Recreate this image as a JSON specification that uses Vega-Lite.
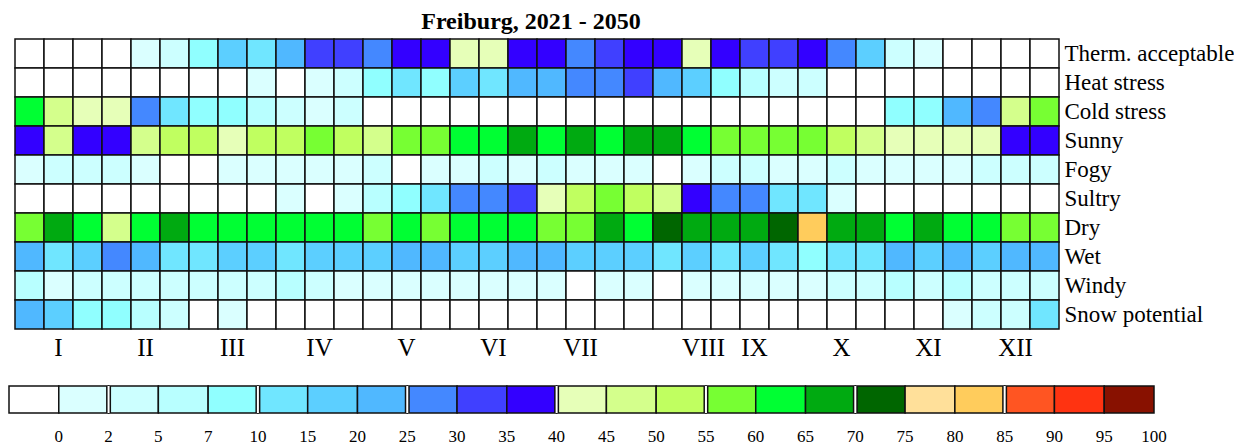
{
  "$schema": "https://vega.github.io/schema/vega-lite/v6.json",
  "padding": {"left": 8, "top": 10, "right": 0, "bottom": 0},
  "background": "white",
  "spacing": 23,
  "config": {"font": "Liberation Serif", "view": {"stroke": null}},
  "vconcat": [
    {
      "width": 1044,
      "height": 290,
      "title": {"text": "Freiburg, 2021 - 2050", "fontSize": 24, "fontWeight": "bold", "font": "Liberation Serif", "anchor": "middle", "offset": 4, "dx": -6, "color": "black"},
      "data": {"values": [
{"p":"Therm. acceptable","m":"I","d":1,"v":0},{"p":"Therm. acceptable","m":"I","d":2,"v":0},{"p":"Therm. acceptable","m":"I","d":3,"v":0},
{"p":"Therm. acceptable","m":"II","d":1,"v":0},{"p":"Therm. acceptable","m":"II","d":2,"v":1},{"p":"Therm. acceptable","m":"II","d":3,"v":4},
{"p":"Therm. acceptable","m":"III","d":1,"v":9},{"p":"Therm. acceptable","m":"III","d":2,"v":18},{"p":"Therm. acceptable","m":"III","d":3,"v":13},
{"p":"Therm. acceptable","m":"IV","d":1,"v":23},{"p":"Therm. acceptable","m":"IV","d":2,"v":33},{"p":"Therm. acceptable","m":"IV","d":3,"v":33},
{"p":"Therm. acceptable","m":"V","d":1,"v":28},{"p":"Therm. acceptable","m":"V","d":2,"v":38},{"p":"Therm. acceptable","m":"V","d":3,"v":38},
{"p":"Therm. acceptable","m":"VI","d":1,"v":43},{"p":"Therm. acceptable","m":"VI","d":2,"v":43},{"p":"Therm. acceptable","m":"VI","d":3,"v":38},
{"p":"Therm. acceptable","m":"VII","d":1,"v":38},{"p":"Therm. acceptable","m":"VII","d":2,"v":28},{"p":"Therm. acceptable","m":"VII","d":3,"v":33},
{"p":"Therm. acceptable","m":"VIII","d":1,"v":38},{"p":"Therm. acceptable","m":"VIII","d":2,"v":38},{"p":"Therm. acceptable","m":"VIII","d":3,"v":43},
{"p":"Therm. acceptable","m":"IX","d":1,"v":38},{"p":"Therm. acceptable","m":"IX","d":2,"v":33},{"p":"Therm. acceptable","m":"IX","d":3,"v":33},
{"p":"Therm. acceptable","m":"X","d":1,"v":38},{"p":"Therm. acceptable","m":"X","d":2,"v":28},{"p":"Therm. acceptable","m":"X","d":3,"v":18},
{"p":"Therm. acceptable","m":"XI","d":1,"v":4},{"p":"Therm. acceptable","m":"XI","d":2,"v":1},{"p":"Therm. acceptable","m":"XI","d":3,"v":0},
{"p":"Therm. acceptable","m":"XII","d":1,"v":0},{"p":"Therm. acceptable","m":"XII","d":2,"v":0},{"p":"Therm. acceptable","m":"XII","d":3,"v":0},

{"p":"Heat stress","m":"I","d":1,"v":0},{"p":"Heat stress","m":"I","d":2,"v":0},{"p":"Heat stress","m":"I","d":3,"v":0},
{"p":"Heat stress","m":"II","d":1,"v":0},{"p":"Heat stress","m":"II","d":2,"v":0},{"p":"Heat stress","m":"II","d":3,"v":0},
{"p":"Heat stress","m":"III","d":1,"v":0},{"p":"Heat stress","m":"III","d":2,"v":0},{"p":"Heat stress","m":"III","d":3,"v":1},
{"p":"Heat stress","m":"IV","d":1,"v":0},{"p":"Heat stress","m":"IV","d":2,"v":1},{"p":"Heat stress","m":"IV","d":3,"v":4},
{"p":"Heat stress","m":"V","d":1,"v":9},{"p":"Heat stress","m":"V","d":2,"v":13},{"p":"Heat stress","m":"V","d":3,"v":9},
{"p":"Heat stress","m":"VI","d":1,"v":18},{"p":"Heat stress","m":"VI","d":2,"v":13},{"p":"Heat stress","m":"VI","d":3,"v":23},
{"p":"Heat stress","m":"VII","d":1,"v":23},{"p":"Heat stress","m":"VII","d":2,"v":28},{"p":"Heat stress","m":"VII","d":3,"v":28},
{"p":"Heat stress","m":"VIII","d":1,"v":33},{"p":"Heat stress","m":"VIII","d":2,"v":23},{"p":"Heat stress","m":"VIII","d":3,"v":18},
{"p":"Heat stress","m":"IX","d":1,"v":9},{"p":"Heat stress","m":"IX","d":2,"v":6},{"p":"Heat stress","m":"IX","d":3,"v":4},
{"p":"Heat stress","m":"X","d":1,"v":4},{"p":"Heat stress","m":"X","d":2,"v":0},{"p":"Heat stress","m":"X","d":3,"v":0},
{"p":"Heat stress","m":"XI","d":1,"v":0},{"p":"Heat stress","m":"XI","d":2,"v":0},{"p":"Heat stress","m":"XI","d":3,"v":0},
{"p":"Heat stress","m":"XII","d":1,"v":0},{"p":"Heat stress","m":"XII","d":2,"v":0},{"p":"Heat stress","m":"XII","d":3,"v":0},

{"p":"Cold stress","m":"I","d":1,"v":63},{"p":"Cold stress","m":"I","d":2,"v":48},{"p":"Cold stress","m":"I","d":3,"v":43},
{"p":"Cold stress","m":"II","d":1,"v":43},{"p":"Cold stress","m":"II","d":2,"v":28},{"p":"Cold stress","m":"II","d":3,"v":13},
{"p":"Cold stress","m":"III","d":1,"v":9},{"p":"Cold stress","m":"III","d":2,"v":9},{"p":"Cold stress","m":"III","d":3,"v":6},
{"p":"Cold stress","m":"IV","d":1,"v":4},{"p":"Cold stress","m":"IV","d":2,"v":1},{"p":"Cold stress","m":"IV","d":3,"v":4},
{"p":"Cold stress","m":"V","d":1,"v":0},{"p":"Cold stress","m":"V","d":2,"v":0},{"p":"Cold stress","m":"V","d":3,"v":0},
{"p":"Cold stress","m":"VI","d":1,"v":0},{"p":"Cold stress","m":"VI","d":2,"v":0},{"p":"Cold stress","m":"VI","d":3,"v":0},
{"p":"Cold stress","m":"VII","d":1,"v":0},{"p":"Cold stress","m":"VII","d":2,"v":0},{"p":"Cold stress","m":"VII","d":3,"v":0},
{"p":"Cold stress","m":"VIII","d":1,"v":0},{"p":"Cold stress","m":"VIII","d":2,"v":0},{"p":"Cold stress","m":"VIII","d":3,"v":0},
{"p":"Cold stress","m":"IX","d":1,"v":0},{"p":"Cold stress","m":"IX","d":2,"v":0},{"p":"Cold stress","m":"IX","d":3,"v":0},
{"p":"Cold stress","m":"X","d":1,"v":0},{"p":"Cold stress","m":"X","d":2,"v":0},{"p":"Cold stress","m":"X","d":3,"v":0},
{"p":"Cold stress","m":"XI","d":1,"v":9},{"p":"Cold stress","m":"XI","d":2,"v":9},{"p":"Cold stress","m":"XI","d":3,"v":23},
{"p":"Cold stress","m":"XII","d":1,"v":28},{"p":"Cold stress","m":"XII","d":2,"v":48},{"p":"Cold stress","m":"XII","d":3,"v":58},

{"p":"Sunny","m":"I","d":1,"v":38},{"p":"Sunny","m":"I","d":2,"v":48},{"p":"Sunny","m":"I","d":3,"v":38},
{"p":"Sunny","m":"II","d":1,"v":38},{"p":"Sunny","m":"II","d":2,"v":48},{"p":"Sunny","m":"II","d":3,"v":53},
{"p":"Sunny","m":"III","d":1,"v":53},{"p":"Sunny","m":"III","d":2,"v":43},{"p":"Sunny","m":"III","d":3,"v":53},
{"p":"Sunny","m":"IV","d":1,"v":53},{"p":"Sunny","m":"IV","d":2,"v":58},{"p":"Sunny","m":"IV","d":3,"v":53},
{"p":"Sunny","m":"V","d":1,"v":48},{"p":"Sunny","m":"V","d":2,"v":58},{"p":"Sunny","m":"V","d":3,"v":58},
{"p":"Sunny","m":"VI","d":1,"v":63},{"p":"Sunny","m":"VI","d":2,"v":63},{"p":"Sunny","m":"VI","d":3,"v":68},
{"p":"Sunny","m":"VII","d":1,"v":63},{"p":"Sunny","m":"VII","d":2,"v":68},{"p":"Sunny","m":"VII","d":3,"v":63},
{"p":"Sunny","m":"VIII","d":1,"v":68},{"p":"Sunny","m":"VIII","d":2,"v":68},{"p":"Sunny","m":"VIII","d":3,"v":63},
{"p":"Sunny","m":"IX","d":1,"v":58},{"p":"Sunny","m":"IX","d":2,"v":58},{"p":"Sunny","m":"IX","d":3,"v":58},
{"p":"Sunny","m":"X","d":1,"v":58},{"p":"Sunny","m":"X","d":2,"v":53},{"p":"Sunny","m":"X","d":3,"v":48},
{"p":"Sunny","m":"XI","d":1,"v":43},{"p":"Sunny","m":"XI","d":2,"v":43},{"p":"Sunny","m":"XI","d":3,"v":43},
{"p":"Sunny","m":"XII","d":1,"v":43},{"p":"Sunny","m":"XII","d":2,"v":38},{"p":"Sunny","m":"XII","d":3,"v":38},

{"p":"Fogy","m":"I","d":1,"v":1},{"p":"Fogy","m":"I","d":2,"v":4},{"p":"Fogy","m":"I","d":3,"v":4},
{"p":"Fogy","m":"II","d":1,"v":4},{"p":"Fogy","m":"II","d":2,"v":1},{"p":"Fogy","m":"II","d":3,"v":0},
{"p":"Fogy","m":"III","d":1,"v":0},{"p":"Fogy","m":"III","d":2,"v":1},{"p":"Fogy","m":"III","d":3,"v":1},
{"p":"Fogy","m":"IV","d":1,"v":1},{"p":"Fogy","m":"IV","d":2,"v":1},{"p":"Fogy","m":"IV","d":3,"v":1},
{"p":"Fogy","m":"V","d":1,"v":4},{"p":"Fogy","m":"V","d":2,"v":0},{"p":"Fogy","m":"V","d":3,"v":1},
{"p":"Fogy","m":"VI","d":1,"v":1},{"p":"Fogy","m":"VI","d":2,"v":4},{"p":"Fogy","m":"VI","d":3,"v":1},
{"p":"Fogy","m":"VII","d":1,"v":4},{"p":"Fogy","m":"VII","d":2,"v":1},{"p":"Fogy","m":"VII","d":3,"v":1},
{"p":"Fogy","m":"VIII","d":1,"v":1},{"p":"Fogy","m":"VIII","d":2,"v":0},{"p":"Fogy","m":"VIII","d":3,"v":1},
{"p":"Fogy","m":"IX","d":1,"v":4},{"p":"Fogy","m":"IX","d":2,"v":4},{"p":"Fogy","m":"IX","d":3,"v":1},
{"p":"Fogy","m":"X","d":1,"v":1},{"p":"Fogy","m":"X","d":2,"v":4},{"p":"Fogy","m":"X","d":3,"v":1},
{"p":"Fogy","m":"XI","d":1,"v":1},{"p":"Fogy","m":"XI","d":2,"v":1},{"p":"Fogy","m":"XI","d":3,"v":1},
{"p":"Fogy","m":"XII","d":1,"v":4},{"p":"Fogy","m":"XII","d":2,"v":4},{"p":"Fogy","m":"XII","d":3,"v":4},

{"p":"Sultry","m":"I","d":1,"v":0},{"p":"Sultry","m":"I","d":2,"v":0},{"p":"Sultry","m":"I","d":3,"v":0},
{"p":"Sultry","m":"II","d":1,"v":0},{"p":"Sultry","m":"II","d":2,"v":0},{"p":"Sultry","m":"II","d":3,"v":0},
{"p":"Sultry","m":"III","d":1,"v":0},{"p":"Sultry","m":"III","d":2,"v":0},{"p":"Sultry","m":"III","d":3,"v":0},
{"p":"Sultry","m":"IV","d":1,"v":1},{"p":"Sultry","m":"IV","d":2,"v":0},{"p":"Sultry","m":"IV","d":3,"v":1},
{"p":"Sultry","m":"V","d":1,"v":6},{"p":"Sultry","m":"V","d":2,"v":9},{"p":"Sultry","m":"V","d":3,"v":13},
{"p":"Sultry","m":"VI","d":1,"v":28},{"p":"Sultry","m":"VI","d":2,"v":28},{"p":"Sultry","m":"VI","d":3,"v":33},
{"p":"Sultry","m":"VII","d":1,"v":43},{"p":"Sultry","m":"VII","d":2,"v":53},{"p":"Sultry","m":"VII","d":3,"v":58},
{"p":"Sultry","m":"VIII","d":1,"v":53},{"p":"Sultry","m":"VIII","d":2,"v":48},{"p":"Sultry","m":"VIII","d":3,"v":38},
{"p":"Sultry","m":"IX","d":1,"v":28},{"p":"Sultry","m":"IX","d":2,"v":28},{"p":"Sultry","m":"IX","d":3,"v":13},
{"p":"Sultry","m":"X","d":1,"v":13},{"p":"Sultry","m":"X","d":2,"v":1},{"p":"Sultry","m":"X","d":3,"v":0},
{"p":"Sultry","m":"XI","d":1,"v":0},{"p":"Sultry","m":"XI","d":2,"v":0},{"p":"Sultry","m":"XI","d":3,"v":0},
{"p":"Sultry","m":"XII","d":1,"v":0},{"p":"Sultry","m":"XII","d":2,"v":0},{"p":"Sultry","m":"XII","d":3,"v":0},

{"p":"Dry","m":"I","d":1,"v":58},{"p":"Dry","m":"I","d":2,"v":68},{"p":"Dry","m":"I","d":3,"v":63},
{"p":"Dry","m":"II","d":1,"v":48},{"p":"Dry","m":"II","d":2,"v":63},{"p":"Dry","m":"II","d":3,"v":68},
{"p":"Dry","m":"III","d":1,"v":63},{"p":"Dry","m":"III","d":2,"v":63},{"p":"Dry","m":"III","d":3,"v":63},
{"p":"Dry","m":"IV","d":1,"v":63},{"p":"Dry","m":"IV","d":2,"v":63},{"p":"Dry","m":"IV","d":3,"v":63},
{"p":"Dry","m":"V","d":1,"v":58},{"p":"Dry","m":"V","d":2,"v":63},{"p":"Dry","m":"V","d":3,"v":58},
{"p":"Dry","m":"VI","d":1,"v":63},{"p":"Dry","m":"VI","d":2,"v":63},{"p":"Dry","m":"VI","d":3,"v":63},
{"p":"Dry","m":"VII","d":1,"v":58},{"p":"Dry","m":"VII","d":2,"v":58},{"p":"Dry","m":"VII","d":3,"v":68},
{"p":"Dry","m":"VIII","d":1,"v":63},{"p":"Dry","m":"VIII","d":2,"v":73},{"p":"Dry","m":"VIII","d":3,"v":68},
{"p":"Dry","m":"IX","d":1,"v":68},{"p":"Dry","m":"IX","d":2,"v":68},{"p":"Dry","m":"IX","d":3,"v":73},
{"p":"Dry","m":"X","d":1,"v":83},{"p":"Dry","m":"X","d":2,"v":68},{"p":"Dry","m":"X","d":3,"v":68},
{"p":"Dry","m":"XI","d":1,"v":63},{"p":"Dry","m":"XI","d":2,"v":68},{"p":"Dry","m":"XI","d":3,"v":63},
{"p":"Dry","m":"XII","d":1,"v":63},{"p":"Dry","m":"XII","d":2,"v":58},{"p":"Dry","m":"XII","d":3,"v":58},

{"p":"Wet","m":"I","d":1,"v":23},{"p":"Wet","m":"I","d":2,"v":13},{"p":"Wet","m":"I","d":3,"v":18},
{"p":"Wet","m":"II","d":1,"v":28},{"p":"Wet","m":"II","d":2,"v":23},{"p":"Wet","m":"II","d":3,"v":13},
{"p":"Wet","m":"III","d":1,"v":13},{"p":"Wet","m":"III","d":2,"v":18},{"p":"Wet","m":"III","d":3,"v":18},
{"p":"Wet","m":"IV","d":1,"v":13},{"p":"Wet","m":"IV","d":2,"v":18},{"p":"Wet","m":"IV","d":3,"v":18},
{"p":"Wet","m":"V","d":1,"v":18},{"p":"Wet","m":"V","d":2,"v":23},{"p":"Wet","m":"V","d":3,"v":23},
{"p":"Wet","m":"VI","d":1,"v":18},{"p":"Wet","m":"VI","d":2,"v":18},{"p":"Wet","m":"VI","d":3,"v":23},
{"p":"Wet","m":"VII","d":1,"v":23},{"p":"Wet","m":"VII","d":2,"v":18},{"p":"Wet","m":"VII","d":3,"v":18},
{"p":"Wet","m":"VIII","d":1,"v":18},{"p":"Wet","m":"VIII","d":2,"v":13},{"p":"Wet","m":"VIII","d":3,"v":18},
{"p":"Wet","m":"IX","d":1,"v":13},{"p":"Wet","m":"IX","d":2,"v":18},{"p":"Wet","m":"IX","d":3,"v":13},
{"p":"Wet","m":"X","d":1,"v":9},{"p":"Wet","m":"X","d":2,"v":13},{"p":"Wet","m":"X","d":3,"v":13},
{"p":"Wet","m":"XI","d":1,"v":23},{"p":"Wet","m":"XI","d":2,"v":18},{"p":"Wet","m":"XI","d":3,"v":23},
{"p":"Wet","m":"XII","d":1,"v":18},{"p":"Wet","m":"XII","d":2,"v":23},{"p":"Wet","m":"XII","d":3,"v":23},

{"p":"Windy","m":"I","d":1,"v":6},{"p":"Windy","m":"I","d":2,"v":1},{"p":"Windy","m":"I","d":3,"v":4},
{"p":"Windy","m":"II","d":1,"v":4},{"p":"Windy","m":"II","d":2,"v":4},{"p":"Windy","m":"II","d":3,"v":4},
{"p":"Windy","m":"III","d":1,"v":4},{"p":"Windy","m":"III","d":2,"v":4},{"p":"Windy","m":"III","d":3,"v":4},
{"p":"Windy","m":"IV","d":1,"v":6},{"p":"Windy","m":"IV","d":2,"v":4},{"p":"Windy","m":"IV","d":3,"v":1},
{"p":"Windy","m":"V","d":1,"v":1},{"p":"Windy","m":"V","d":2,"v":1},{"p":"Windy","m":"V","d":3,"v":1},
{"p":"Windy","m":"VI","d":1,"v":1},{"p":"Windy","m":"VI","d":2,"v":1},{"p":"Windy","m":"VI","d":3,"v":1},
{"p":"Windy","m":"VII","d":1,"v":1},{"p":"Windy","m":"VII","d":2,"v":0},{"p":"Windy","m":"VII","d":3,"v":1},
{"p":"Windy","m":"VIII","d":1,"v":1},{"p":"Windy","m":"VIII","d":2,"v":0},{"p":"Windy","m":"VIII","d":3,"v":1},
{"p":"Windy","m":"IX","d":1,"v":1},{"p":"Windy","m":"IX","d":2,"v":1},{"p":"Windy","m":"IX","d":3,"v":1},
{"p":"Windy","m":"X","d":1,"v":1},{"p":"Windy","m":"X","d":2,"v":4},{"p":"Windy","m":"X","d":3,"v":4},
{"p":"Windy","m":"XI","d":1,"v":6},{"p":"Windy","m":"XI","d":2,"v":4},{"p":"Windy","m":"XI","d":3,"v":6},
{"p":"Windy","m":"XII","d":1,"v":4},{"p":"Windy","m":"XII","d":2,"v":4},{"p":"Windy","m":"XII","d":3,"v":4},

{"p":"Snow potential","m":"I","d":1,"v":23},{"p":"Snow potential","m":"I","d":2,"v":18},{"p":"Snow potential","m":"I","d":3,"v":9},
{"p":"Snow potential","m":"II","d":1,"v":9},{"p":"Snow potential","m":"II","d":2,"v":6},{"p":"Snow potential","m":"II","d":3,"v":4},
{"p":"Snow potential","m":"III","d":1,"v":0},{"p":"Snow potential","m":"III","d":2,"v":1},{"p":"Snow potential","m":"III","d":3,"v":0},
{"p":"Snow potential","m":"IV","d":1,"v":0},{"p":"Snow potential","m":"IV","d":2,"v":0},{"p":"Snow potential","m":"IV","d":3,"v":0},
{"p":"Snow potential","m":"V","d":1,"v":0},{"p":"Snow potential","m":"V","d":2,"v":0},{"p":"Snow potential","m":"V","d":3,"v":0},
{"p":"Snow potential","m":"VI","d":1,"v":0},{"p":"Snow potential","m":"VI","d":2,"v":0},{"p":"Snow potential","m":"VI","d":3,"v":0},
{"p":"Snow potential","m":"VII","d":1,"v":0},{"p":"Snow potential","m":"VII","d":2,"v":0},{"p":"Snow potential","m":"VII","d":3,"v":0},
{"p":"Snow potential","m":"VIII","d":1,"v":0},{"p":"Snow potential","m":"VIII","d":2,"v":0},{"p":"Snow potential","m":"VIII","d":3,"v":0},
{"p":"Snow potential","m":"IX","d":1,"v":0},{"p":"Snow potential","m":"IX","d":2,"v":0},{"p":"Snow potential","m":"IX","d":3,"v":0},
{"p":"Snow potential","m":"X","d":1,"v":0},{"p":"Snow potential","m":"X","d":2,"v":0},{"p":"Snow potential","m":"X","d":3,"v":0},
{"p":"Snow potential","m":"XI","d":1,"v":0},{"p":"Snow potential","m":"XI","d":2,"v":0},{"p":"Snow potential","m":"XI","d":3,"v":1},
{"p":"Snow potential","m":"XII","d":1,"v":4},{"p":"Snow potential","m":"XII","d":2,"v":4},{"p":"Snow potential","m":"XII","d":3,"v":13}
      ]},
      "mark": {"type": "rect", "stroke": "#111111", "strokeWidth": 1.5},
      "encoding": {
        "x": {"field": "m", "type": "ordinal", "sort": ["I","II","III","IV","V","VI","VII","VIII","IX","X","XI","XII"], "scale": {"paddingInner": 0, "paddingOuter": 0},
              "axis": {"orient": "bottom", "title": null, "domain": false, "ticks": false, "labelAngle": 0, "labelFontSize": 25, "labelColor": "black", "labelPadding": 6, "labelFont": "Liberation Serif",
                       "labelOffset": {"condition": {"test": "datum.value === 'VIII'", "value": 36}, "value": 0}}},
        "xOffset": {"field": "d", "type": "ordinal", "scale": {"paddingInner": 0, "paddingOuter": 0}},
        "y": {"field": "p", "type": "nominal", "sort": ["Therm. acceptable","Heat stress","Cold stress","Sunny","Fogy","Sultry","Dry","Wet","Windy","Snow potential"], "scale": {"paddingInner": 0, "paddingOuter": 0},
              "axis": {"orient": "right", "title": null, "domain": false, "ticks": false, "labelFontSize": 23, "labelColor": "black", "labelPadding": 5, "labelLimit": 300, "labelFont": "Liberation Serif"}},
        "color": {"field": "v", "type": "quantitative", "legend": null,
          "scale": {"type": "threshold", "domain": [0.001,2,5,7,10,15,20,25,30,35,40,45,50,55,60,65,70,75,80,85,90,95],
            "range": ["#ffffff","#daffff","#ccffff","#b8ffff","#90ffff","#70e6ff","#5ccfff","#50b8ff","#4488ff","#4040ff","#3300ff","#e6ffb8","#d4ff8c","#c0ff60","#77ff33","#00ff33","#00aa11","#006600","#ffe09a","#ffcc5c","#ff5522","#ff3311","#881100"]}}
      }
    },
    {
      "width": 1139,
      "height": 27,
      "encoding": {
        "x": {"field": "lab", "type": "ordinal", "sort": ["0","2","5","7","10","15","20","25","30","35","40","45","50","55","60","65","70","75","80","85","90","95","100"],
              "scale": {"paddingInner": 0, "paddingOuter": 0, "range": [-6, 1139]},
              "axis": {"title": null, "domain": false, "ticks": false, "labelAngle": 0, "labelOffset": 24.9, "labelFontSize": 17, "labelColor": "black", "labelPadding": 15, "labelFont": "Liberation Serif"}}
      },
      "layer": [
        {
          "data": {"values": [
            {"lab":"0","v":0},{"lab":"2","v":1},{"lab":"5","v":4},{"lab":"7","v":6},{"lab":"10","v":9},{"lab":"15","v":13},{"lab":"20","v":18},{"lab":"25","v":23},
            {"lab":"30","v":28},{"lab":"35","v":33},{"lab":"40","v":38},{"lab":"45","v":43},{"lab":"50","v":48},{"lab":"55","v":53},{"lab":"60","v":58},{"lab":"65","v":63},
            {"lab":"70","v":68},{"lab":"75","v":73},{"lab":"80","v":78},{"lab":"85","v":83},{"lab":"90","v":88},{"lab":"95","v":93},{"lab":"100","v":98}
          ]},
          "mark": {"type": "rect", "stroke": "#111111", "strokeWidth": 1.5},
          "encoding": {
            "color": {"field": "v", "type": "quantitative", "legend": null,
              "scale": {"type": "threshold", "domain": [0.001,2,5,7,10,15,20,25,30,35,40,45,50,55,60,65,70,75,80,85,90,95],
                "range": ["#ffffff","#daffff","#ccffff","#b8ffff","#90ffff","#70e6ff","#5ccfff","#50b8ff","#4488ff","#4040ff","#3300ff","#e6ffb8","#d4ff8c","#c0ff60","#77ff33","#00ff33","#00aa11","#006600","#ffe09a","#ffcc5c","#ff5522","#ff3311","#881100"]}}
          }
        },
        {
          "data": {"values": [{"lab":"5"},{"lab":"15"},{"lab":"30"},{"lab":"45"},{"lab":"60"},{"lab":"75"},{"lab":"90"}]},
          "mark": {"type": "rule", "color": "#111111", "strokeWidth": 5},
          "encoding": {"x": {"field": "lab", "type": "ordinal", "bandPosition": 0}}
        },
        {
          "data": {"values": [{"lab":"5"},{"lab":"15"},{"lab":"30"},{"lab":"45"},{"lab":"60"},{"lab":"75"},{"lab":"90"}]},
          "mark": {"type": "rule", "color": "#ffffff", "strokeWidth": 2},
          "encoding": {"x": {"field": "lab", "type": "ordinal", "bandPosition": 0}}
        }
      ]
    }
  ]
}
